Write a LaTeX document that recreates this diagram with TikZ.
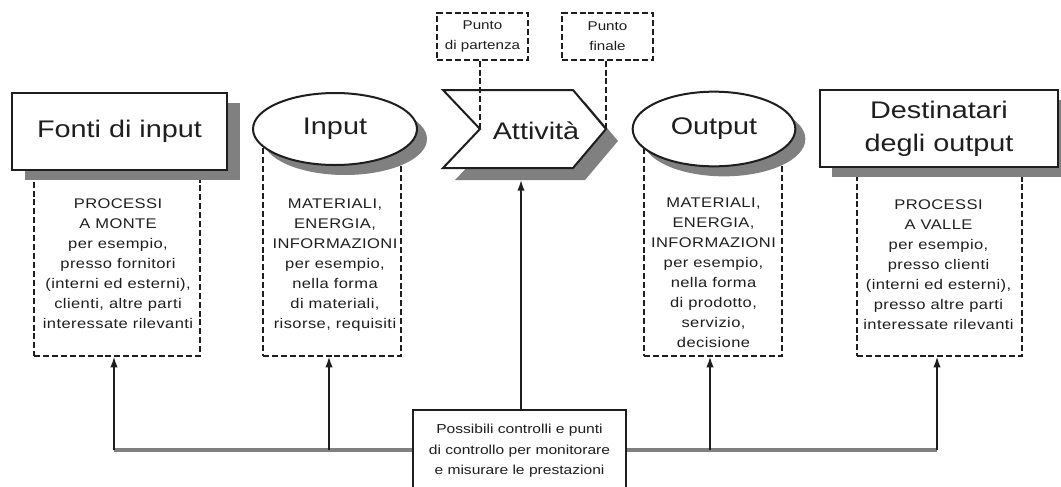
\documentclass[tikz,border=0pt]{standalone}
\usepackage{fontspec}
\setmainfont{Liberation Sans}[FakeStretch=1.2]
\newfontfamily\widesans{Liberation Sans}[FakeStretch=1.18,LetterSpace=3.0]
\usetikzlibrary{arrows.meta,shapes.geometric,shadows}
\definecolor{ink}{HTML}{1E1E1E}
\definecolor{shadowgray}{gray}{0.5}
\definecolor{hgray}{gray}{0.5}
\begin{document}
\begin{tikzpicture}[x=0.75pt,y=-0.75pt,line join=miter,
  every node/.style={text=ink},
  solidline/.style={draw=ink,line width=1.5pt},
  titlebox/.style={solidline,fill=white,font=\fontsize{18}{24.75}\selectfont,align=center,inner sep=0pt},
  shad/.style={drop shadow={shadow xshift=#1,shadow yshift=-7.5pt,fill=shadowgray,opacity=1}},
  dbox/.style={draw=ink,dash pattern=on 4.5pt off 2.2pt,line width=0.9pt,inner sep=0pt},
  dtext/.style={font=\widesans\fontsize{10.5}{15}\selectfont,align=center,inner sep=0pt,anchor=north},
  ptext/.style={dbox,font=\fontsize{9.5}{15}\selectfont,align=center,minimum width=68.25pt,minimum height=35.25pt},
  dline/.style={draw=ink,dash pattern=on 4.5pt off 2.2pt,line width=0.9pt},
  arr/.style={draw=ink,line width=1.2pt,-{Latex[length=8pt,width=5.5pt]}},
  hline/.style={draw=hgray,line width=2.4pt}
]
\useasboundingbox (0,0) rectangle (1061,486);
\clip (0,0) rectangle (1061,486);

% dashed boxes (tops hidden behind title shapes)
\node[dbox,minimum width=124.5pt,minimum height=162pt] (d1) at (117,248) {};
\node[dbox,minimum width=103.5pt,minimum height=162pt] (d2) at (332,248) {};
\node[dbox,minimum width=103.5pt,minimum height=162pt] (d3) at (713,248) {};
\node[dbox,minimum width=123.75pt,minimum height=162pt] (d4) at (939.5,248) {};

% title shapes
\node[titlebox,shad=9.75pt,minimum width=161.25pt,minimum height=57.75pt] (fonti) at (119.5,131.5) {Fonti di input};
\node[titlebox,shad=7.5pt,ellipse,minimum width=123pt,minimum height=54pt] (inp) at (335,129) {Input};
\node[titlebox,shad=7.5pt,ellipse,minimum width=122pt,minimum height=56pt] (out) at (714,129) {Output};
\node[titlebox,shad=9pt,minimum width=178.5pt,minimum height=57.75pt] (dest) at (939,128.5) {Destinatari\\degli output};

% activity chevron
\begin{scope}[shift={(12,12)}]
  \fill[fill=shadowgray] (443,90) -- (573,90) -- (606,129) -- (573,168) -- (443,168) -- (480,129) -- cycle;
\end{scope}
\draw[solidline,fill=white] (443,90) -- (573,90) -- (606,129) -- (573,168) -- (443,168) -- (480,129) -- cycle;
\node[font=\fontsize{18}{24}\selectfont,inner sep=0pt] (att) at (536,131) {Attività};
\coordinate (notch) at (480,129);
\coordinate (tip) at (606,129);
\coordinate (attbot) at (521,180);

% start / end point boxes
\node[ptext] (p1) at (482.5,36.5) {Punto\\di partenza};
\node[ptext] (p2) at (607.5,36.5) {Punto\\finale};
\draw[dline] (p1.south -| notch) -- (notch);
\draw[dline] (p2.south -| tip) -- (tip);

% texts in dashed boxes
\node[dtext] (t1) at (118,198) {PROCESSI\\A MONTE\\per esempio,\\presso fornitori\\(interni ed esterni),\\clienti, altre parti\\interessate rilevanti};
\node[dtext] (t2) at (335,199) {MATERIALI,\\ENERGIA,\\INFORMAZIONI\\per esempio,\\nella forma\\di materiali,\\risorse, requisiti};
\node[dtext] (t3) at (713.5,198) {MATERIALI,\\ENERGIA,\\INFORMAZIONI\\per esempio,\\nella forma\\di prodotto,\\servizio,\\decisione};
\node[dtext] (t4) at (938.5,199) {PROCESSI\\A VALLE\\per esempio,\\presso clienti\\(interni ed esterni),\\presso altre parti\\interessate rilevanti};

% control box
\node[solidline,fill=white,font=\fontsize{9.75}{15.4}\selectfont,align=center,inner sep=0pt,minimum width=159.75pt,minimum height=61.5pt] (bot) at (519.5,451) {Possibili controlli e punti\\di controllo per monitorare\\e misurare le prestazioni};

\coordinate (h1) at (114,450);
\coordinate (h2) at (329,450);
\coordinate (h3) at (710,450);
\coordinate (h4) at (937,450);
\draw[hline] (h1) -- (bot.west |- h1);
\draw[hline] (bot.east |- h1) -- (h4);
\draw[arr] (h1) -- (d1.south -| h1);
\draw[arr] (h2) -- (d2.south -| h2);
\draw[arr] (h3) -- (d3.south -| h3);
\draw[arr] (h4) -- (d4.south -| h4);
\draw[arr] (bot.north -| attbot) -- (attbot);
\end{tikzpicture}
\end{document}
